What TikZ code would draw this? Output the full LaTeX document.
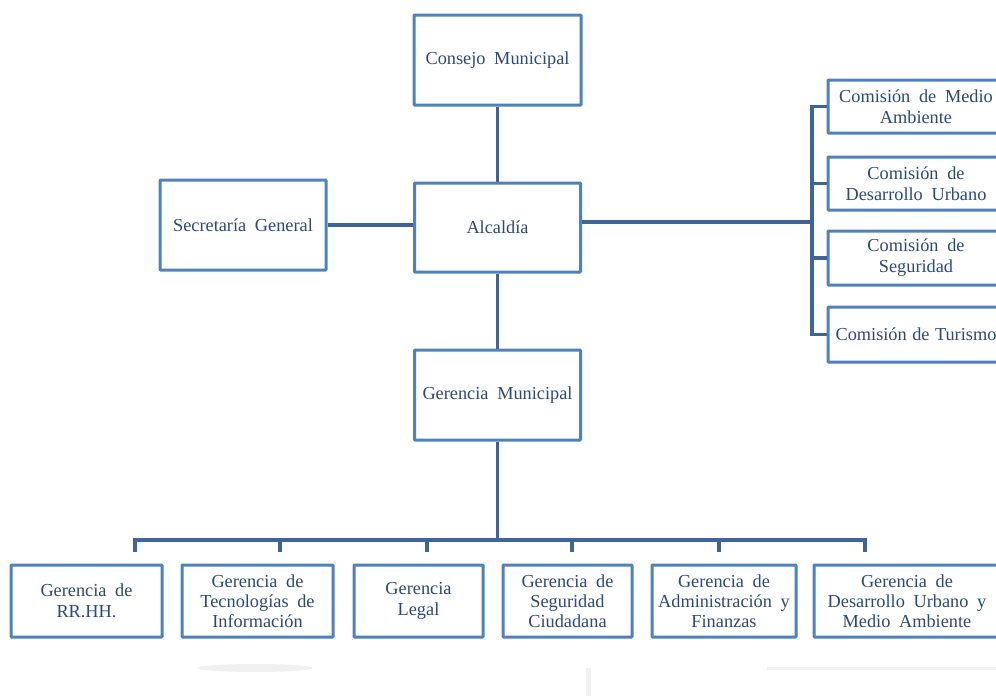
\documentclass[tikz,border=0pt]{standalone}
\usepackage{fontspec}
\setmainfont{Liberation Serif}[WordSpace=1.9]
\newfontfamily\narrowspace{Liberation Serif}[WordSpace=1.2]
\definecolor{boxline}{HTML}{4F81BD}
\definecolor{linkline}{HTML}{3E6499}
\definecolor{boxtext}{HTML}{2B4A7C}
\tikzset{
  unit/.style={draw=boxline, line width=3pt, fill=white, rounded corners=0.8pt,
    align=center, inner sep=1pt, text=boxtext,
    font=\fontsize{18.3}{21}\selectfont},
  tight/.style={font=\fontsize{18.3}{20}\selectfont},
  link/.style={draw=linkline, line width=3.5pt},
  haze/.style={fill=black!6, draw=none}
}
\begin{document}
\begin{tikzpicture}[x=1pt, y=-1pt]
\useasboundingbox (0,0) rectangle (996,696);
\clip (0,0) rectangle (996,696);

% faint marks along the lower edge
\fill[haze] (255,668) ellipse (58 and 4);
\fill[haze] (586,668) rectangle (591,696);
\fill[haze] (767,667) rectangle (996,670);

% top levels
\node[unit, minimum width=167, minimum height=90] (consejo) at (497.5,60) {Consejo Municipal};
\node[unit, minimum width=166, minimum height=89] (alcaldia) at (497.5,227.5) {Alcaldía};
\node[unit, minimum width=166, minimum height=90] (secretaria) at (243,225) {Secretaría General};
\node[unit, minimum width=166, minimum height=90] (gerencia) at (497.5,395) {Gerencia Municipal};

% commissions
\node[unit, minimum width=176, minimum height=53] (com1) at (916,106.5) {Comisión de Medio\\Ambiente};
\node[unit, minimum width=176, minimum height=53] (com2) at (916,183.5) {Comisión de\\Desarrollo Urbano};
\node[unit, minimum width=176, minimum height=54] (com3) at (916,258) {Comisión de\\Seguridad};
\node[unit, minimum width=176, minimum height=55, font=\narrowspace\fontsize{18.3}{21}\selectfont] (com4) at (916,334.5) {Comisión de Turismo};

% management units
\node[unit, minimum width=151, minimum height=72] (g1) at (86.5,601) {Gerencia de\\RR.HH.};
\node[unit, tight, minimum width=151, minimum height=72] (g2) at (257.5,601) {Gerencia de\\Tecnologías de\\Información};
\node[unit, minimum width=129, minimum height=72] (g3) at (418.5,601) {Gerencia\\Legal};
\node[unit, tight, minimum width=129, minimum height=72] (g4) at (567.5,601) {Gerencia de\\Seguridad\\Ciudadana};
\node[unit, tight, minimum width=144, minimum height=72] (g5) at (724,601) {Gerencia de\\Administración y\\Finanzas};
\node[unit, tight, minimum width=186, minimum height=72] (g6) at (907,601) {Gerencia de\\Desarrollo Urbano y\\Medio Ambiente};

% vertical chain
\draw[link] (consejo) -- (alcaldia);
\draw[link] (alcaldia) -- (gerencia);
\draw[link] (secretaria.east) -- (secretaria.east -| alcaldia.west);

% commission spine
\coordinate (spine) at (812,222);
\draw[link] ([yshift=5.5pt]alcaldia.east) -- (spine);
\draw[link] (com1.west) -| (spine);
\draw[link] (com4.west) -| (spine);
\draw[link] (com2.west) -- (com2.west -| spine);
\draw[link] (com3.west) -- (com3.west -| spine);

% distribution bar
\coordinate (bus) at (500,540);
\coordinate (b1) at (135,540);
\coordinate (b6) at (865,540);
\coordinate (t1) at (135,552);
\coordinate (t2) at (280,552);
\coordinate (t3) at (427,552);
\coordinate (t4) at (572,552);
\coordinate (t5) at (719,552);
\coordinate (t6) at (865,552);
\draw[link] (gerencia.south) -- (gerencia.south |- bus);
\draw[link] (t1) -- (b1) -- (b6) -- (t6);
\foreach \t in {t2,t3,t4,t5} \draw[link] (\t) -- (\t |- bus);
\end{tikzpicture}
\end{document}
